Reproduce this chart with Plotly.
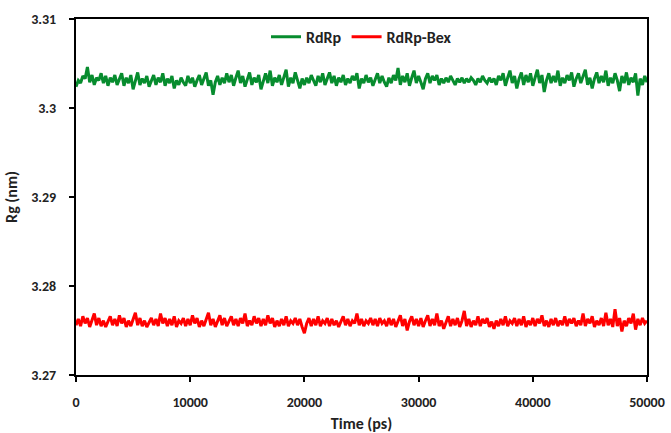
import plotly.graph_objects as go

time_ps = list(range(0, 50001, 200))

rdrp = [
    3.3024, 3.3031, 3.3028, 3.3036, 3.3033, 3.3046, 3.3029, 3.3037, 3.3026, 3.3034,
    3.3031, 3.3039, 3.3028, 3.3036, 3.3025, 3.3034, 3.3029, 3.3037, 3.3026, 3.3033,
    3.3039, 3.3025, 3.3034, 3.3028, 3.3037, 3.3021, 3.3031, 3.3040, 3.3026, 3.3033,
    3.3028, 3.3036, 3.3024, 3.3031, 3.3037, 3.3026, 3.3034, 3.3029, 3.3039, 3.3025,
    3.3033, 3.3028, 3.3036, 3.3022, 3.3031, 3.3026, 3.3034, 3.3029, 3.3025, 3.3036,
    3.3028, 3.3034, 3.3024, 3.3031, 3.3037, 3.3026, 3.3033, 3.3040, 3.3025, 3.3031,
    3.3015, 3.3029, 3.3036, 3.3026, 3.3034, 3.3028, 3.3039, 3.3029, 3.3037, 3.3025,
    3.3034, 3.3042, 3.3028, 3.3036, 3.3024, 3.3033, 3.3040, 3.3026, 3.3034, 3.3029,
    3.3037, 3.3021, 3.3031, 3.3039, 3.3028, 3.3042, 3.3025, 3.3034, 3.3029, 3.3037,
    3.3026, 3.3036, 3.3043, 3.3024, 3.3034, 3.3028, 3.3040, 3.3031, 3.3022, 3.3033,
    3.3026, 3.3034, 3.3028, 3.3037, 3.3031, 3.3025, 3.3036, 3.3029, 3.3039, 3.3026,
    3.3033, 3.3040, 3.3028, 3.3036, 3.3025, 3.3034, 3.3029, 3.3037, 3.3026, 3.3033,
    3.3028, 3.3036, 3.3031, 3.3039, 3.3022, 3.3033, 3.3028, 3.3037, 3.3029, 3.3034,
    3.3025, 3.3033, 3.3039, 3.3028, 3.3036, 3.3029, 3.3024, 3.3034, 3.3028, 3.3037,
    3.3031, 3.3045, 3.3026, 3.3036, 3.3029, 3.3039, 3.3025, 3.3034, 3.3042, 3.3028,
    3.3036, 3.3029, 3.3021, 3.3033, 3.3039, 3.3028, 3.3036, 3.3031, 3.3037, 3.3026,
    3.3033, 3.3028, 3.3034, 3.3029, 3.3036, 3.3031, 3.3026, 3.3033, 3.3029, 3.3034,
    3.3028, 3.3033, 3.3029, 3.3034, 3.3031, 3.3026, 3.3033, 3.3029, 3.3036, 3.3031,
    3.3028, 3.3034, 3.3029, 3.3033, 3.3026, 3.3036, 3.3031, 3.3039, 3.3025, 3.3034,
    3.3042, 3.3028, 3.3036, 3.3022, 3.3033, 3.3040, 3.3026, 3.3037, 3.3029, 3.3039,
    3.3025, 3.3034, 3.3043, 3.3028, 3.3037, 3.3018, 3.3031, 3.3039, 3.3028, 3.3036,
    3.3029, 3.3042, 3.3025, 3.3034, 3.3028, 3.3037, 3.3031, 3.3040, 3.3024, 3.3033,
    3.3039, 3.3028, 3.3036, 3.3043, 3.3026, 3.3034, 3.3022, 3.3033, 3.3040, 3.3028,
    3.3036, 3.3029, 3.3042, 3.3025, 3.3034, 3.3028, 3.3039, 3.3031, 3.3019, 3.3036,
    3.3028, 3.3040, 3.3026, 3.3034, 3.3029, 3.3039, 3.3014, 3.3033, 3.3026, 3.3036,
    3.3029,
]

rdrp_bex = [
    3.2756, 3.2763, 3.2755, 3.2766, 3.2758, 3.2764, 3.2754, 3.2761, 3.2769, 3.2756,
    3.2764, 3.2755, 3.2761, 3.2754, 3.2760, 3.2766, 3.2756, 3.2763, 3.2755, 3.2767,
    3.2758, 3.2764, 3.2754, 3.2761, 3.2755, 3.2763, 3.2770, 3.2756, 3.2764, 3.2755,
    3.2761, 3.2754, 3.2760, 3.2764, 3.2756, 3.2763, 3.2755, 3.2769, 3.2758, 3.2764,
    3.2755, 3.2763, 3.2756, 3.2766, 3.2754, 3.2761, 3.2758, 3.2764, 3.2755, 3.2763,
    3.2756, 3.2767, 3.2758, 3.2764, 3.2754, 3.2761, 3.2755, 3.2763, 3.2770, 3.2756,
    3.2763, 3.2754, 3.2761, 3.2767, 3.2756, 3.2764, 3.2755, 3.2761, 3.2766, 3.2756,
    3.2763, 3.2755, 3.2764, 3.2758, 3.2769, 3.2755, 3.2761, 3.2756, 3.2766, 3.2758,
    3.2764, 3.2755, 3.2763, 3.2756, 3.2767, 3.2758, 3.2764, 3.2754, 3.2761, 3.2755,
    3.2763, 3.2756, 3.2766, 3.2755, 3.2761, 3.2758, 3.2764, 3.2756, 3.2763, 3.2754,
    3.2747, 3.2758, 3.2764, 3.2755, 3.2763, 3.2756, 3.2766, 3.2755, 3.2761, 3.2758,
    3.2764, 3.2755, 3.2763, 3.2756, 3.2761, 3.2754, 3.2760, 3.2766, 3.2756, 3.2763,
    3.2755, 3.2761, 3.2758, 3.2769, 3.2756, 3.2763, 3.2755, 3.2761, 3.2758, 3.2764,
    3.2756, 3.2763, 3.2755, 3.2764, 3.2758, 3.2761, 3.2755, 3.2764, 3.2756, 3.2763,
    3.2754, 3.2761, 3.2767, 3.2755, 3.2763, 3.2750, 3.2760, 3.2766, 3.2756, 3.2763,
    3.2755, 3.2764, 3.2754, 3.2761, 3.2767, 3.2755, 3.2763, 3.2756, 3.2769, 3.2755,
    3.2761, 3.2752, 3.2760, 3.2766, 3.2755, 3.2763, 3.2756, 3.2764, 3.2754, 3.2761,
    3.2772, 3.2755, 3.2763, 3.2754, 3.2761, 3.2756, 3.2766, 3.2755, 3.2763, 3.2758,
    3.2764, 3.2754, 3.2760, 3.2752, 3.2761, 3.2755, 3.2763, 3.2756, 3.2766, 3.2755,
    3.2761, 3.2758, 3.2764, 3.2755, 3.2763, 3.2756, 3.2766, 3.2754, 3.2761, 3.2756,
    3.2764, 3.2755, 3.2763, 3.2758, 3.2767, 3.2755, 3.2761, 3.2754, 3.2763, 3.2756,
    3.2764, 3.2755, 3.2761, 3.2756, 3.2766, 3.2755, 3.2763, 3.2758, 3.2764, 3.2755,
    3.2761, 3.2756, 3.2769, 3.2755, 3.2763, 3.2758, 3.2766, 3.2754, 3.2761, 3.2756,
    3.2764, 3.2755, 3.2770, 3.2756, 3.2763, 3.2754, 3.2774, 3.2755, 3.2764, 3.2749,
    3.2761, 3.2755, 3.2764, 3.2758, 3.2769, 3.2751, 3.2763, 3.2756, 3.2764, 3.2758,
    3.2761,
]

x_ticks = [0, 10000, 20000, 30000, 40000, 50000]
y_ticks = [3.27, 3.28, 3.29, 3.30, 3.31]
y_tick_labels = ["3.27", "3.28", "3.29", "3.3", "3.31"]

FONT = "Carlito, Lato, 'Open Sans', sans-serif"

fig = go.Figure()
fig.add_trace(go.Scatter(x=time_ps, y=rdrp, mode="lines", name="RdRp",
                         line=dict(color="#078C2E", width=3)))
fig.add_trace(go.Scatter(x=time_ps, y=rdrp_bex, mode="lines", name="RdRp-Bex",
                         line=dict(color="#FF0000", width=3)))

fig.update_layout(
    width=671, height=433,
    margin=dict(l=76, r=24, t=19, b=58),
    paper_bgcolor="white", plot_bgcolor="white",
    font=dict(family=FONT, size=14, color="#222222", weight="bold"),
    showlegend=True,
    legend=dict(orientation="h", x=0.5, xanchor="center", y=0.95, yanchor="middle",
                bgcolor="rgba(0,0,0,0)", font=dict(size=16, weight="bold"),
                itemwidth=30, tracegroupgap=0),
)
fig.update_xaxes(
    range=[0, 50000], tickvals=x_ticks, ticktext=[str(v) for v in x_ticks],
    showgrid=False, zeroline=False, showline=True, linecolor="black", linewidth=2,
    mirror=True, ticks="outside", ticklen=5, tickwidth=2, tickcolor="black",
    ticklabelstandoff=8, automargin=False,
    title=dict(text="Time (ps)", font=dict(size=16, weight="bold"), standoff=14),
)
fig.update_yaxes(
    range=[3.27, 3.31], tickvals=y_ticks, ticktext=y_tick_labels,
    showgrid=False, zeroline=False, showline=True, linecolor="black", linewidth=2,
    mirror=True, ticks="outside", ticklen=5, tickwidth=2, tickcolor="black",
    ticklabelstandoff=10, automargin=False,
    title=dict(text="Rg (nm)", font=dict(size=16, weight="bold"), standoff=10),
)

fig.write_html(
    "out.html",
    config={"displayModeBar": False},
    post_script="document.body.style.margin='0';document.body.style.overflow='hidden';",
)
